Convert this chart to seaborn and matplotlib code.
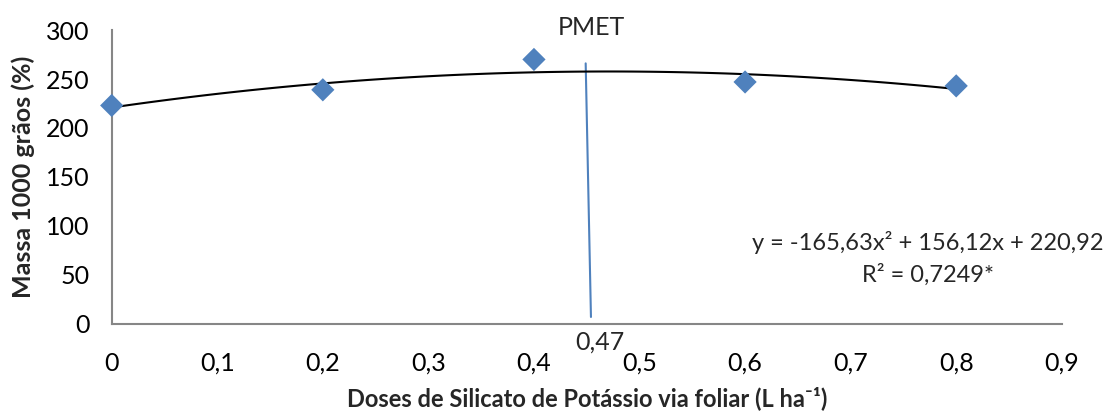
import numpy as np
import pandas as pd
import matplotlib
matplotlib.use("Agg")
import matplotlib.pyplot as plt
import seaborn as sns

# data
doses = [0, 0.2, 0.4, 0.6, 0.8]
massa = [223, 239, 270, 247, 243]
coef = [-165.63, 156.12, 220.92]
pmet_x = [0.449, 0.454]
pmet_y = [266, 7]
xticks = [0, 0.1, 0.2, 0.3, 0.4, 0.5, 0.6, 0.7, 0.8, 0.9]
yticks = [0, 50, 100, 150, 200, 250, 300]

sns.set_style("white")
plt.rcParams['font.family'] = ['Lato', 'DejaVu Sans']

fig = plt.figure(figsize=(11.06, 4.12), dpi=100)
ax = fig.add_axes([0.101, 0.214, 0.859, 0.713])

df = pd.DataFrame({'dose': doses, 'massa': massa})
xs = np.linspace(0, 0.8, 100)
fit = pd.DataFrame({'dose': xs, 'massa': coef[0]*xs**2 + coef[1]*xs + coef[2]})

sns.lineplot(data=fit, x='dose', y='massa', color='black', linewidth=1.5, ax=ax, zorder=2)
sns.scatterplot(data=df, x='dose', y='massa', marker='D', s=140, color='#4F81BD',
                edgecolor='none', ax=ax, zorder=3, clip_on=False)
ax.plot(pmet_x, pmet_y, color='#4F81BD', linewidth=1.5, zorder=1)

ax.set_xlim(0, 0.9)
ax.set_ylim(0, 300)
ax.set_xticks(xticks)
ax.set_xticklabels([('%g' % t).replace('.', ',') for t in xticks])
ax.set_yticks(yticks)
ax.tick_params(axis='both', length=0, labelsize=18, labelcolor='black')
ax.tick_params(axis='x', pad=20)
ax.tick_params(axis='y', pad=16)
for s in ['top', 'right']:
    ax.spines[s].set_visible(False)
for s in ['left', 'bottom']:
    ax.spines[s].set_color('#868686')
    ax.spines[s].set_linewidth(1.5)

ax.set_xlabel('Doses de Silicato de Potássio via foliar (L ha⁻¹)', fontsize=17,
              fontweight='bold', labelpad=8)
ax.set_ylabel('Massa 1000 grãos (%)', fontsize=18, fontweight='bold', labelpad=8)

ax.text(0.454, 303, 'PMET', fontsize=18, ha='center', va='center', clip_on=False)
ax.text(0.462, -19, '0,47', fontsize=18, ha='center', va='center', clip_on=False)
ax.text(0.607, 83, 'y = -165,63x² + 156,12x + 220,92', fontsize=17, ha='left', va='center')
ax.text(0.711, 50, 'R² = 0,7249*', fontsize=17, ha='left', va='center')

fig.savefig('out.png', dpi=100)
